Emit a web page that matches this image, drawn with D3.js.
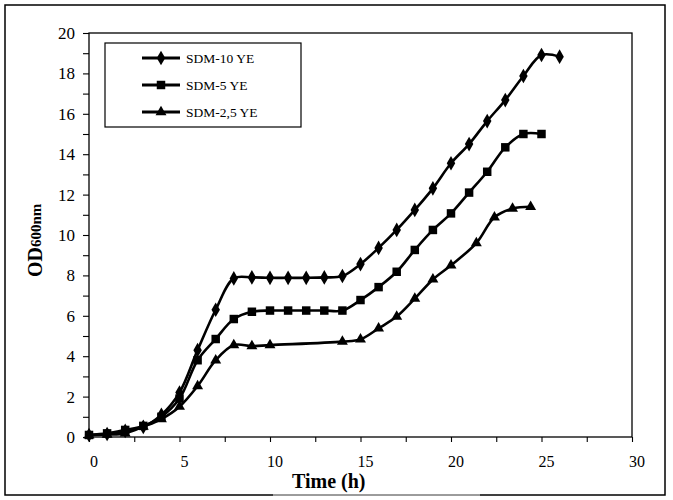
<!DOCTYPE html>
<html>
<head>
<meta charset="utf-8">
<script src="https://cdn.jsdelivr.net/npm/d3@7"></script>
<style>
  body { margin: 0; background: #fff; }
  text { font-family: "Liberation Serif", "Times New Roman", serif; fill: #000; }
</style>
</head>
<body>
<svg id="chart" width="673" height="500"></svg>
<script>
// Series values
const timeSdm10 = [0, 1, 2, 3, 4, 5, 6, 7, 8, 9, 10, 11, 12, 13, 14, 15, 16, 17, 18, 19, 20, 21, 22, 23, 24, 25, 26];
const odSdm10 = [0.1, 0.15, 0.3, 0.5, 1.1, 2.2, 4.3, 6.3, 7.85, 7.9, 7.88, 7.88, 7.88, 7.9, 7.97, 8.56, 9.36, 10.25, 11.24, 12.31, 13.55, 14.5, 15.64, 16.68, 17.87, 18.91, 18.83];

const timeSdm5 = [0, 1, 2, 3, 4, 5, 6, 7, 8, 9, 10, 11, 12, 13, 14, 15, 16, 17, 18, 19, 20, 21, 22, 23, 24, 25];
const odSdm5 = [0.1, 0.18, 0.35, 0.55, 1.0, 1.9, 3.8, 4.85, 5.84, 6.2, 6.26, 6.26, 6.26, 6.26, 6.26, 6.78, 7.42, 8.18, 9.26, 10.25, 11.07, 12.1, 13.13, 14.34, 15.0, 15.0];

const timeSdm25 = [0, 1, 2, 3, 4, 5, 6, 7, 8, 9, 10, 14, 15, 16, 17, 18, 19, 20, 21.4, 22.4, 23.4, 24.4];
const odSdm25 = [0.08, 0.12, 0.18, 0.51, 0.89, 1.5, 2.52, 3.8, 4.55, 4.5, 4.55, 4.72, 4.84, 5.38, 5.96, 6.85, 7.8, 8.5, 9.6, 10.88, 11.31, 11.4];

const seriesNames = ["SDM-10 YE", "SDM-5 YE", "SDM-2,5 YE"];
const xTicks = [0, 5, 10, 15, 20, 25, 30];
const yTicks = [0, 2, 4, 6, 8, 10, 12, 14, 16, 18, 20];

const series = [
    { name: seriesNames[0], symbol: d3.symbolDiamond, size: 62, pts: timeSdm10.map((t, i) => [t, odSdm10[i]]) },
    { name: seriesNames[1], symbol: d3.symbolSquare, size: 72, pts: timeSdm5.map((t, i) => [t, odSdm5[i]]) },
    { name: seriesNames[2], symbol: d3.symbolTriangle, size: 52, pts: timeSdm25.map((t, i) => [t, odSdm25[i]]) }
];

const svg = d3.select("#chart");
const margin = { top: 33, right: 41, bottom: 63, left: 89 };
const width = 673, height = 500;

// Outer frame
svg.append("rect")
    .attr("x", 5).attr("y", 5)
    .attr("width", 660).attr("height", 490)
    .attr("fill", "none").attr("stroke", "#000").attr("stroke-width", 1.5);
svg.append("line")
    .attr("x1", 273).attr("x2", 480).attr("y1", 495).attr("y2", 495)
    .attr("stroke", "#bbb").attr("stroke-width", 1.5);

// Scales
const x = d3.scaleLinear().domain([0, 30]).range([margin.left, width - margin.right]);
const y = d3.scaleLinear().domain([0, 20]).range([height - margin.bottom, margin.top]);

// Plot frame
svg.append("rect")
    .attr("x", x(0)).attr("y", y(20))
    .attr("width", x(30) - x(0)).attr("height", y(0) - y(20))
    .attr("fill", "none").attr("stroke", "#000").attr("stroke-width", 1.3);

// X axis
const xAxis = svg.append("g")
    .attr("transform", `translate(0, ${y(0)})`)
    .call(d3.axisBottom(x).tickValues(d3.range(0, 30.1, 2.5)).tickSize(5).tickFormat(""));
xAxis.select(".domain").remove();
xAxis.selectAll("line").attr("stroke-width", 1.1);

svg.append("g").selectAll("text")
    .data(xTicks)
    .enter().append("text")
    .attr("x", d => x(d) + 5)
    .attr("y", y(0) + 30)
    .attr("text-anchor", "middle")
    .attr("font-size", "16px")
    .text(d => d);

// Y axis
const yAxis = svg.append("g")
    .attr("transform", `translate(${x(0)}, 0)`)
    .call(d3.axisLeft(y).tickValues(d3.range(0, 20.1, 1)).tickSize(6).tickFormat(""));
yAxis.select(".domain").remove();
yAxis.selectAll("line").attr("stroke-width", 1.1);

svg.append("g").selectAll("text")
    .data(yTicks)
    .enter().append("text")
    .attr("x", x(0) - 14)
    .attr("y", d => y(d))
    .attr("dy", "0.35em")
    .attr("text-anchor", "end")
    .attr("font-size", "17px")
    .text(d => d);

// Axis titles
svg.append("text")
    .attr("x", 292)
    .attr("y", 488)
    .attr("font-size", "20px")
    .attr("font-weight", "bold")
    .text("Time (h)");

const yTitle = svg.append("text")
    .attr("transform", "translate(42, 277) rotate(-90)")
    .attr("font-weight", "bold");
yTitle.append("tspan").attr("font-size", "20px").text("OD");
yTitle.append("tspan").attr("font-size", "15px").attr("dy", -1).text("600nm");

// Lines and markers
const line = d3.line()
    .x(d => x(d[0]))
    .y(d => y(d[1]))
    .curve(d3.curveCatmullRom);

series.forEach(s => {
    svg.append("path")
        .datum(s.pts)
        .attr("fill", "none")
        .attr("stroke", "#000")
        .attr("stroke-width", 2.6)
        .attr("d", line);

    svg.append("g").selectAll("path")
        .data(s.pts)
        .enter().append("path")
        .attr("transform", d => `translate(${x(d[0])}, ${y(d[1])})`)
        .attr("d", d3.symbol().type(s.symbol).size(s.size))
        .attr("fill", "#000");
});

// Legend
const legend = svg.append("g");
legend.append("rect")
    .attr("x", 105).attr("y", 43)
    .attr("width", 196).attr("height", 84)
    .attr("fill", "#fff").attr("stroke", "#000").attr("stroke-width", 1.2);

series.forEach((s, i) => {
    const ly = 58 + i * 27;
    legend.append("line")
        .attr("x1", 142).attr("x2", 180)
        .attr("y1", ly).attr("y2", ly)
        .attr("stroke", "#000").attr("stroke-width", 3);
    legend.append("path")
        .attr("transform", `translate(161, ${ly})`)
        .attr("d", d3.symbol().type(s.symbol).size(s.size))
        .attr("fill", "#000");
    legend.append("text")
        .attr("x", 186)
        .attr("y", ly)
        .attr("dy", "0.35em")
        .attr("font-size", "13.5px")
        .text(s.name);
});
</script>
</body>
</html>
